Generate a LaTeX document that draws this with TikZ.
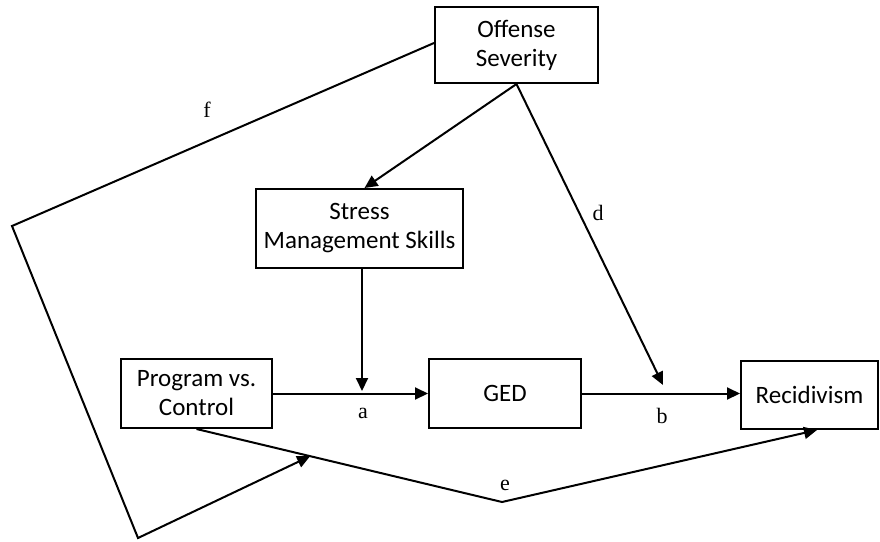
\documentclass[tikz,border=0pt]{standalone}
\usepackage{fontspec}
\setmainfont{Liberation Serif}
\newfontfamily\boxfont{Carlito}
\usetikzlibrary{arrows.meta,calc}
\tikzset{
  box/.style={draw, line width=2pt, rectangle, inner sep=0pt, align=center,
    font=\boxfont\fontsize{25}{29}\selectfont},
  conn/.style={line width=2pt, line join=miter},
  arr/.style={conn, -{Triangle[length=13pt,width=12pt]}},
  lbl/.style={inner sep=0pt, font=\fontsize{22}{26}\selectfont}
}
\begin{document}
\begin{tikzpicture}[x=1pt,y=-1pt]
\useasboundingbox (0,0) rectangle (880,541);
% boxes
\node[box, minimum width=163pt, minimum height=76pt] (off) at (516.5,45) {Offense\\Severity};
\node[box, minimum width=207pt, minimum height=79pt] (stress) at (359.5,228.5) {Stress\\Management Skills};
\node[box, minimum width=151pt, minimum height=69pt] (prog) at (196.5,393.5) {Program vs.\\Control};
\node[box, minimum width=152pt, minimum height=69pt] (ged) at (505,393.5) {GED};
\node[box, minimum width=137pt, minimum height=68pt] (rec) at (809.5,395) {Recidivism};
% helper coordinates
\coordinate (fL) at (12,226);
\coordinate (fB) at (138,538);
\coordinate (eV) at (502,502);
\coordinate (dTip) at (663,385);
\coordinate (aTip) at (362,391);
% connectors
\draw[arr] (prog.east) -- (ged.west);
\draw[arr] (ged.east) -- (ged.east -| rec.west);
\draw[arr] ([xshift=2.5pt]stress.south) -- (aTip);
\draw[arr] (off.south) -- ([xshift=5pt]stress.north);
\draw[arr] (off.south) -- (dTip);
\draw[arr] (prog.south) -- (eV) -- ([xshift=7.5pt]rec.south);
\draw[arr] ([yshift=2pt]off.west) -- (fL) -- (fB) -- ($(prog.south)!0.372!(eV)$);
% labels
\node[lbl] (la) at (363,413) {a};
\node[lbl] (lb) at (662,416) {b};
\node[lbl] (ld) at (598,213) {d};
\node[lbl] (le) at (505,485) {e};
\node[lbl] (lf) at (207,110) {f};
\end{tikzpicture}
\end{document}
